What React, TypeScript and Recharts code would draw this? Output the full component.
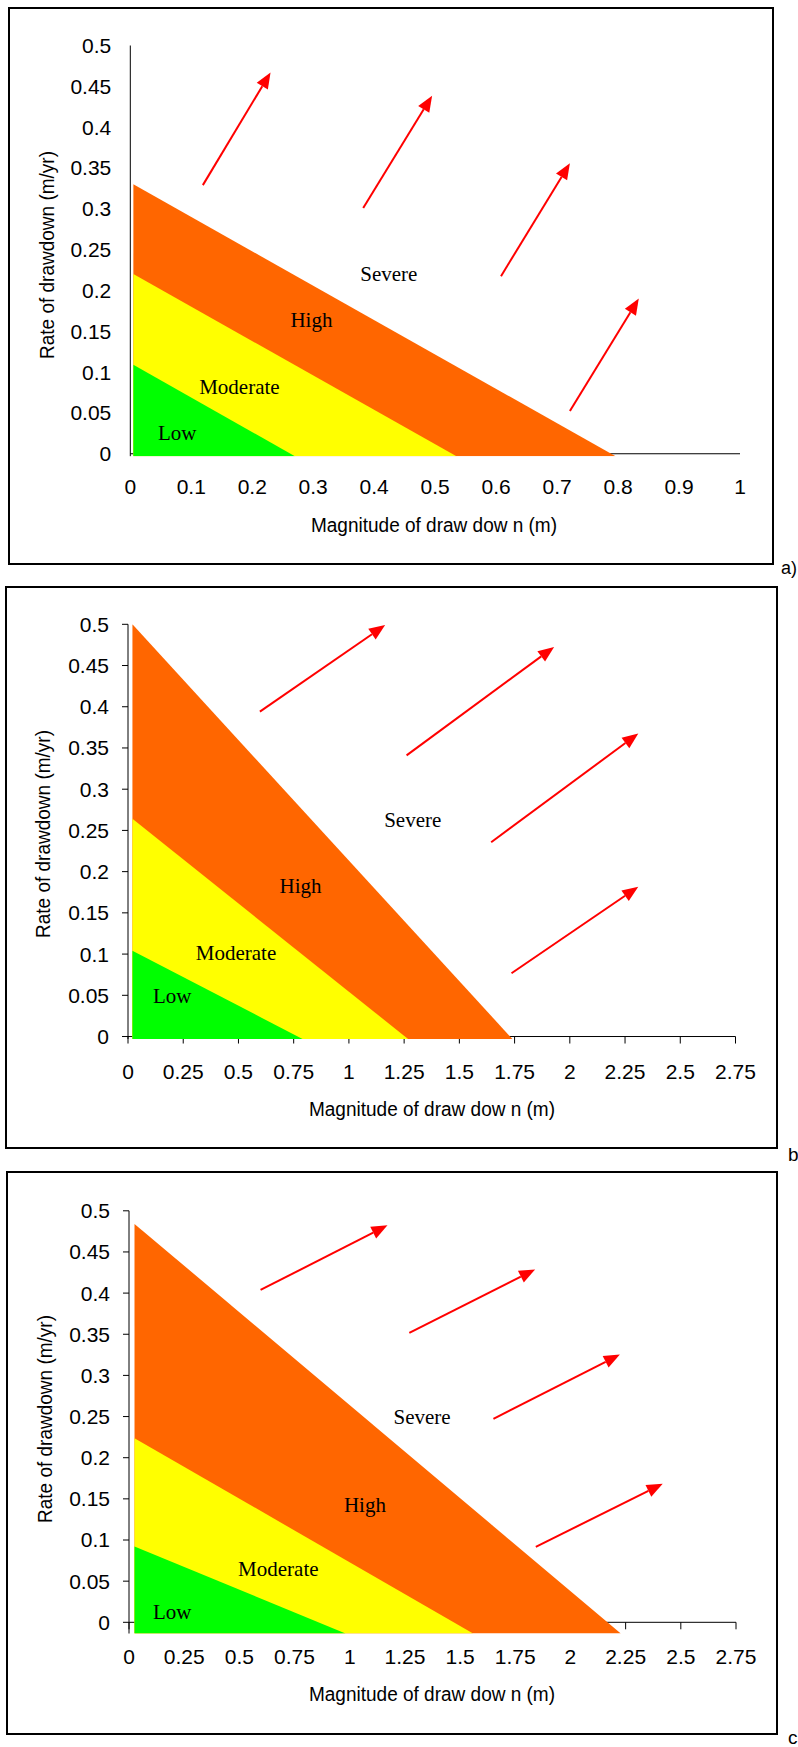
import React from "react";
import { ComposedChart, Area, XAxis, YAxis, ReferenceLine, ReferenceDot } from "recharts";

type Pt = { x: number; y: number };

// shared y ticks (rate of drawdown, m/yr)
const yTicks = [0, 0.05, 0.1, 0.15, 0.2, 0.25, 0.3, 0.35, 0.4, 0.45, 0.5];

// panel a
const aXTicks = [0, 0.1, 0.2, 0.3, 0.4, 0.5, 0.6, 0.7, 0.8, 0.9, 1];
const aLow: Pt[] = [{ x: 0.005, y: 0.109 }, { x: 0.27, y: -0.003 }];
const aModerate: Pt[] = [{ x: 0.005, y: 0.22 }, { x: 0.535, y: -0.003 }];
const aHigh: Pt[] = [{ x: 0.005, y: 0.33 }, { x: 0.796, y: -0.003 }];
const aArrows: Pt[][] = [
  [{ x: 0.119, y: 0.329 }, { x: 0.23, y: 0.467 }],
  [{ x: 0.382, y: 0.301 }, { x: 0.495, y: 0.4385 }],
  [{ x: 0.608, y: 0.2175 }, { x: 0.721, y: 0.3558 }],
  [{ x: 0.721, y: 0.0524 }, { x: 0.834, y: 0.19 }],
];
const aLabels = [
  { text: "Severe", x: 0.424, y: 0.22 },
  { text: "High", x: 0.297, y: 0.164 },
  { text: "Moderate", x: 0.179, y: 0.082 },
  { text: "Low", x: 0.077, y: 0.026 },
];

// panel b
const bcXTicks = [0, 0.25, 0.5, 0.75, 1, 1.25, 1.5, 1.75, 2, 2.25, 2.5, 2.75];
const bLow: Pt[] = [{ x: 0.02, y: 0.104 }, { x: 0.79, y: -0.003 }];
const bModerate: Pt[] = [{ x: 0.02, y: 0.264 }, { x: 1.268, y: -0.003 }];
const bHigh: Pt[] = [{ x: 0.02, y: 0.5 }, { x: 1.74, y: -0.003 }];
const bArrows: Pt[][] = [
  [{ x: 0.597, y: 0.394 }, { x: 1.164, y: 0.499 }],
  [{ x: 1.261, y: 0.341 }, { x: 1.929, y: 0.4726 }],
  [{ x: 1.644, y: 0.2356 }, { x: 2.31, y: 0.3676 }],
  [{ x: 1.736, y: 0.0767 }, { x: 2.31, y: 0.1817 }],
];
const bLabels = [
  { text: "Severe", x: 1.289, y: 0.2626 },
  { text: "High", x: 0.781, y: 0.1826 },
  { text: "Moderate", x: 0.489, y: 0.1018 },
  { text: "Low", x: 0.2, y: 0.0493 },
];

// panel c
const cLow: Pt[] = [{ x: 0.025, y: 0.0921 }, { x: 0.981, y: -0.0136 }];
const cModerate: Pt[] = [{ x: 0.025, y: 0.2237 }, { x: 1.559, y: -0.0136 }];
const cHigh: Pt[] = [{ x: 0.025, y: 0.4841 }, { x: 2.228, y: -0.0136 }];
const cArrows: Pt[][] = [
  [{ x: 0.596, y: 0.4038 }, { x: 1.171, y: 0.4823 }],
  [{ x: 1.27, y: 0.3516 }, { x: 1.84, y: 0.4288 }],
  [{ x: 1.651, y: 0.2473 }, { x: 2.224, y: 0.3253 }],
  [{ x: 1.843, y: 0.0917 }, { x: 2.418, y: 0.1683 }],
];
const cLabels = [
  { text: "Severe", x: 1.328, y: 0.2495 },
  { text: "High", x: 1.069, y: 0.1429 },
  { text: "Moderate", x: 0.6765, y: 0.0644 },
  { text: "Low", x: 0.196, y: 0.0123 },
];

const SANS = "'Liberation Sans', Arial, sans-serif";
const SERIF = "'Liberation Serif', 'Times New Roman', serif";

function mergeBands(low: Pt[], moderate: Pt[], high: Pt[]) {
  const rows = new Map<number, any>();
  const add = (pts: Pt[], key: string) =>
    pts.forEach((p) => {
      const r = rows.get(p.x) ?? { x: p.x };
      r[key] = p.y;
      rows.set(p.x, r);
    });
  add(high, "high");
  add(moderate, "moderate");
  add(low, "low");
  return [...rows.values()].sort((a, b) => a.x - b.x);
}

function ArrowShape(p: any) {
  const { x1, y1, x2, y2 } = p;
  const dx = x2 - x1;
  const dy = y2 - y1;
  const len = Math.hypot(dx, dy) || 1;
  const ux = dx / len;
  const uy = dy / len;
  const head = 16;
  const half = 6.5;
  const bx = x2 - ux * head;
  const by = y2 - uy * head;
  const pts = `${x2},${y2} ${bx - uy * half},${by + ux * half} ${bx + uy * half},${by - ux * half}`;
  return (
    <g>
      <line x1={x1} y1={y1} x2={bx} y2={by} stroke="#FF0000" strokeWidth={2} />
      <polygon points={pts} fill="#FF0000" />
    </g>
  );
}

interface PanelProps {
  top: number;
  height: number;
  margin: { top: number; left: number; right: number; bottom: number };
  xTicks: number[];
  low: Pt[];
  moderate: Pt[];
  high: Pt[];
  arrows: Pt[][];
  labels: { text: string; x: number; y: number }[];
  tickMarks: boolean;
  xLabelGap: number;
}

function Panel({ top, height, margin, xTicks, low, moderate, high, arrows, labels, tickMarks, xLabelGap }: PanelProps) {
  const data = mergeBands(low, moderate, high);
  const bottom = high[high.length - 1].y;
  const xMax = xTicks[xTicks.length - 1];
  const tickStyle = { fill: "#000", fontSize: 21, fontFamily: SANS };
  return (
    <div style={{ position: "absolute", left: 0, top, width: 798, height }}>
      <ComposedChart width={798} height={height} data={data} margin={margin}>
        <XAxis
          dataKey="x"
          type="number"
          domain={[0, xMax]}
          ticks={xTicks}
          allowDataOverflow
          axisLine={false}
          tickLine={false}
          tickSize={0}
          tickMargin={xLabelGap}
          height={40}
          interval={0}
          tick={tickStyle}
        />
        <YAxis
          type="number"
          domain={[bottom, 0.5]}
          ticks={yTicks}
          allowDataOverflow
          axisLine={{ stroke: "#000" }}
          tickLine={tickMarks ? { stroke: "#000" } : false}
          tickSize={6}
          tickMargin={13}
          width={60}
          interval={0}
          tick={tickStyle}
        />
        <ReferenceLine y={0} stroke="#000" ifOverflow="visible" zIndex={50} />
        {tickMarks &&
          xTicks.map((t) => (
            <ReferenceDot
              key={`t${t}`}
              x={t}
              y={0}
              ifOverflow="visible"
              zIndex={50}
              shape={(p: any) => <line x1={p.cx} y1={p.cy} x2={p.cx} y2={p.cy + 7} stroke="#000" />}
            />
          ))}
        <Area
          type="linear"
          dataKey="high"
          stroke="none"
          fill="#FF6600"
          fillOpacity={1}
          baseValue={bottom}
          connectNulls
          isAnimationActive={false}
          dot={false}
          activeDot={false}
          zIndex={100}
        />
        <Area
          type="linear"
          dataKey="moderate"
          stroke="none"
          fill="#FFFF00"
          fillOpacity={1}
          baseValue={bottom}
          connectNulls
          isAnimationActive={false}
          dot={false}
          activeDot={false}
          zIndex={100}
        />
        <Area
          type="linear"
          dataKey="low"
          stroke="none"
          fill="#00FF00"
          fillOpacity={1}
          baseValue={bottom}
          connectNulls
          isAnimationActive={false}
          dot={false}
          activeDot={false}
          zIndex={100}
        />
        {arrows.map((seg, i) => (
          <ReferenceLine
            key={`a${i}`}
            segment={seg}
            ifOverflow="visible"
            zIndex={700}
            shape={(p: any) => <ArrowShape {...p} />}
          />
        ))}
        {labels.map((l) => (
          <ReferenceDot
            key={l.text}
            x={l.x}
            y={l.y}
            ifOverflow="visible"
            zIndex={800}
            shape={(p: any) => (
              <text
                x={p.cx}
                y={p.cy}
                textAnchor="middle"
                dominantBaseline="central"
                fontFamily={SERIF}
                fontSize={21}
                fill="#000"
              >
                {l.text}
              </text>
            )}
          />
        ))}
      </ComposedChart>
    </div>
  );
}

const textBase: React.CSSProperties = {
  position: "absolute",
  fontFamily: SANS,
  fontSize: 19,
  lineHeight: 1,
  whiteSpace: "nowrap",
  color: "#000",
};

function Titles({ yx, yy, xx, xy }: { yx: number; yy: number; xx: number; xy: number }) {
  return (
    <>
      <div
        style={{
          ...textBase,
          fontSize: 20,
          left: yx,
          top: yy,
          transform: "translate(-50%, -50%) rotate(-90deg) scaleX(0.95)",
        }}
      >
        Rate of drawdown (m/yr)
      </div>
      <div style={{ ...textBase, fontSize: 20, left: xx, top: xy, transform: "translate(-50%, -50%) scaleX(0.95)" }}>
        Magnitude of draw dow n (m)
      </div>
    </>
  );
}

export default function App() {
  const box: React.CSSProperties = { position: "absolute", border: "2px solid #000", boxSizing: "border-box" };
  return (
    <div style={{ position: "absolute", left: 0, top: 0, width: 798, height: 1747, background: "#fff", overflow: "hidden" }}>
      <div style={{ ...box, left: 8, top: 7, width: 766, height: 558 }} />
      <div style={{ ...box, left: 5, top: 586, width: 773, height: 563 }} />
      <div style={{ ...box, left: 6, top: 1171, width: 772, height: 564 }} />

      <Panel
        top={0}
        height={580}
        margin={{ top: 45.5, left: 70.3, right: 58, bottom: 83.8 }}
        xTicks={aXTicks}
        low={aLow}
        moderate={aModerate}
        high={aHigh}
        arrows={aArrows}
        labels={aLabels}
        tickMarks={false}
        xLabelGap={23}
      />
      <Panel
        top={570}
        height={590}
        margin={{ top: 54.3, left: 68, right: 62.5, bottom: 81 }}
        xTicks={bcXTicks}
        low={bLow}
        moderate={bModerate}
        high={bHigh}
        arrows={bArrows}
        labels={bLabels}
        tickMarks={true}
        xLabelGap={25}
      />
      <Panel
        top={1160}
        height={587}
        margin={{ top: 50.8, left: 69, right: 62, bottom: 73.5 }}
        xTicks={bcXTicks}
        low={cLow}
        moderate={cModerate}
        high={cHigh}
        arrows={cArrows}
        labels={cLabels}
        tickMarks={true}
        xLabelGap={16}
      />

      <Titles yx={47} yy={254.5} xx={434} xy={525.3} />
      <Titles yx={43} yy={834} xx={431.5} xy={1108.7} />
      <Titles yx={44.8} yy={1419} xx={432} xy={1694} />

      <div style={{ ...textBase, fontSize: 18, left: 781, top: 568, transform: "translateY(-50%)" }}>a)</div>
      <div style={{ ...textBase, left: 788, top: 1154, transform: "translateY(-50%)" }}>b</div>
      <div style={{ ...textBase, left: 788, top: 1737, transform: "translateY(-50%)" }}>c</div>
    </div>
  );
}
